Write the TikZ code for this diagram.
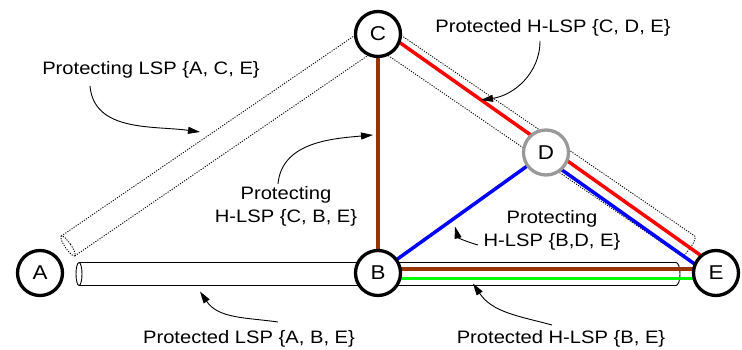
\documentclass[tikz,border=0pt]{standalone}
\usepackage{fontspec}
\setmainfont{Liberation Sans}[FakeStretch=1.12]
\usetikzlibrary{arrows.meta,calc,backgrounds}
\definecolor{brownl}{RGB}{153,51,0}
\definecolor{greenl}{RGB}{0,255,0}
\definecolor{grayc}{RGB}{153,153,153}
\begin{document}
\begin{tikzpicture}[x=1pt,y=1pt,
  lsr/.style={circle, draw=black, line width=3.3pt, fill=white, minimum size=45pt, inner sep=0pt, font=\fontsize{20}{22}\selectfont},
  lbl/.style={align=center, inner sep=0pt, font=\fontsize{18}{23}\selectfont},
  callout/.style={line width=0.9pt, -{Triangle[length=12pt,width=7pt]}},
  pathline/.style={line width=3.5pt},
  tube/.style={line width=0.9pt},
  dottube/.style={line width=0.9pt, dash pattern=on 1.1pt off 1.4pt}
]
\useasboundingbox (0,0) rectangle (742,350);

% routers
\node[lsr] (A) at (40,77) {A};
\node[lsr] (B) at (378,77) {B};
\node[lsr] (C) at (378,316) {C};
\node[lsr, draw=grayc] (D) at (546,197.5) {D};
\node[lsr] (E) at (716,77) {E};

\begin{scope}[on background layer]
  % protecting LSP {A, C, E}: dotted tube
  \begin{scope}[shift={(68,104)}, rotate=34.36]
    \draw[dottube] (0,0) ellipse[x radius=3pt, y radius=12pt];
    \draw[dottube] (0,12) -- (375.6,12) (0,-12) -- (375.6,-12);
  \end{scope}
  \begin{scope}[shift={(378,316)}, rotate=-34.36]
    \draw[dottube] (0,12) -- (375.6,12) arc[start angle=90, end angle=-90, x radius=3pt, y radius=12pt] -- (0,-12);
  \end{scope}
  % protected LSP {A, B, E}: solid tube
  \draw[tube] (79,76) ellipse[x radius=3pt, y radius=11.5pt];
  \draw[tube] (79,87.5) -- (676,87.5) arc[start angle=90, end angle=-90, x radius=4pt, y radius=11.5pt] -- (79,64.5);
  % H-LSPs
  \draw[pathline, brownl] (C.center) -- (B.center);
  \draw[pathline, brownl] ([yshift=3.8pt]B.center) -- ([yshift=3.8pt]E.center);
  \draw[pathline, greenl] ([yshift=-5.5pt]B.center) -- ([yshift=-5.5pt]E.center);
  \draw[pathline, blue] (B.center) -- (D.center);
  \draw[pathline, blue] ([shift={(-2.9,-4.1)}]D.center) -- ([shift={(-2.9,-4.1)}]E.center);
  \draw[pathline, red] ([shift={(3.2,4.5)}]C.center) -- ([shift={(3.2,4.5)}]D.center) -- ([shift={(3.2,4.5)}]E.center);
\end{scope}

% labels
\node[lbl] (l1) at (151,280) {Protecting LSP \{A, C, E\}};
\node[lbl] (l2) at (553,322) {Protected H-LSP \{C, D, E\}};
\node[lbl] (l3) at (286,143.5) {Protecting\\H-LSP \{C, B, E\}};
\node[lbl] (l4) at (552,119.5) {Protecting\\H-LSP \{B,D, E\}};
\node[lbl] (l5) at (249,11) {Protected LSP \{A, B, E\}};
\node[lbl] (l6) at (561,11) {Protected H-LSP \{B, E\}};

% callout arrows
\coordinate (s1) at (90,264);   \coordinate (t1) at (200,218);
\coordinate (s2) at (540,309);  \coordinate (t2) at (481,250);
\coordinate (s3) at (278,166);  \coordinate (t3) at (373,215);
\coordinate (s4) at (478,105);  \coordinate (t4) at (455,123.5);
\coordinate (s5) at (278,28);   \coordinate (t5) at (200,58.5);
\coordinate (s6) at (552,25);   \coordinate (t6) at (473,66.5);
\draw[callout] (s1) to[out=-85, in=172] (t1);
\draw[callout] (s2) to[out=-90, in=8] (t2);
\draw[callout] (s3) to[out=85, in=185] (t3);
\draw[callout] (s4) to[out=165, in=-75] (t4);
\draw[callout] (s5) to[out=172, in=-56] (t5);
\draw[callout] (s6) to[out=165, in=-56] (t6);
\end{tikzpicture}
\end{document}
